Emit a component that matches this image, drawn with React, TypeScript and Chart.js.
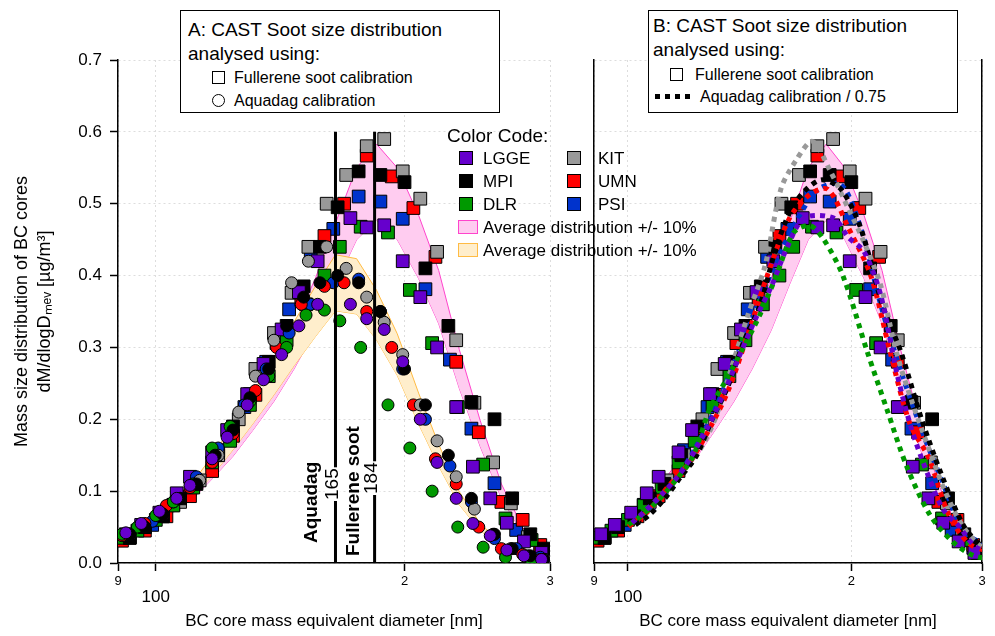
import React, { useEffect, useRef } from "react";
import { Chart, registerables } from "chart.js";
Chart.register(...registerables);

const labs = ["LGGE", "MPI", "DLR", "KIT", "UMN", "PSI"];
const labColors = ["#6600cc", "#000000", "#009900", "#999999", "#ff0000", "#0033cc"];

const xLGGE = [92,96,101,106,110,117,122,129,135,142,149,157,172,180,189,199,209,219,231,242,254,266,279,293];
const fLGGE = [0.04,0.053,0.07,0.097,0.12,0.154,0.185,0.235,0.277,0.325,0.377,0.42,0.48,0.467,0.47,0.42,0.37,0.30,0.217,0.134,0.09,0.056,0.03,0.014];
const aLGGE = [0.042,0.055,0.072,0.09,0.108,0.145,0.175,0.22,0.255,0.29,0.33,0.36,0.36,0.34,0.325,0.28,0.2,0.14,0.09,0.055,0.038,0.018,0.01,0.005];

const xMPI = [93,97,102,107,112,118,124,130,137,144,151,158,166,176,187,200,212,226,241,257,270,284,295];
const fMPI = [0.035,0.05,0.065,0.09,0.11,0.15,0.19,0.235,0.28,0.33,0.385,0.44,0.495,0.545,0.54,0.53,0.41,0.33,0.224,0.20,0.09,0.04,0.02];
const aMPI = [0.04,0.05,0.068,0.09,0.11,0.15,0.185,0.23,0.27,0.33,0.37,0.39,0.40,0.39,0.35,0.27,0.22,0.15,0.09,0.04,0.02,0.01,0.005];

const xDLR = [91,95,100,105,111,117,123,130,137,144,152,160,167,177,191,203,216,232,249,265,285];
const fDLR = [0.035,0.045,0.06,0.08,0.105,0.14,0.17,0.22,0.26,0.31,0.36,0.40,0.44,0.468,0.46,0.38,0.306,0.217,0.137,0.062,0.032];
const aDLR = [0.04,0.05,0.066,0.085,0.11,0.16,0.19,0.225,0.26,0.3,0.345,0.352,0.337,0.3,0.22,0.16,0.1,0.05,0.022,0.008,0.003];

const xKIT = [93,97,102,107,113,119,126,132,139,146,153,161,170,180,189,199,209,219,231,243,256,269,282,296];
const fKIT = [0.035,0.05,0.065,0.085,0.115,0.15,0.2,0.27,0.32,0.376,0.44,0.5,0.54,0.58,0.59,0.545,0.507,0.433,0.31,0.223,0.14,0.083,0.036,0.014];
const aKIT = [0.04,0.05,0.068,0.09,0.115,0.15,0.21,0.26,0.31,0.39,0.42,0.44,0.41,0.37,0.335,0.29,0.22,0.17,0.12,0.075,0.04,0.02,0.01,0.005];

const xUMN = [91,97,103,110,117,124,132,140,150,160,169,180,193,205,218,231,246,262,278,292];
const fUMN = [0.031,0.045,0.065,0.093,0.128,0.177,0.234,0.306,0.366,0.455,0.5,0.567,0.538,0.494,0.426,0.28,0.182,0.085,0.06,0.025];
const aUMN = [0.038,0.055,0.08,0.105,0.14,0.18,0.24,0.3,0.36,0.385,0.39,0.35,0.30,0.22,0.145,0.11,0.05,0.02,0.012,0.005];

const xPSI = [93,99,105,112,119,128,136,145,154,164,176,187,199,212,227,241,257,273,292];
const fPSI = [0.036,0.053,0.081,0.113,0.157,0.217,0.28,0.353,0.426,0.465,0.51,0.503,0.479,0.381,0.283,0.187,0.111,0.046,0.021];
const aPSI = [0.04,0.058,0.085,0.12,0.16,0.22,0.27,0.32,0.36,0.39,0.395,0.35,0.27,0.2,0.135,0.085,0.034,0.02,0.008];

const labX = [xLGGE, xMPI, xDLR, xKIT, xUMN, xPSI];
const labF = [fLGGE, fMPI, fDLR, fKIT, fUMN, fPSI];
const labA = [aLGGE, aMPI, aDLR, aKIT, aUMN, aPSI];

const avgX = [90,95,100,105,111,117,124,131,139,147,156,165,175,185,196,208,220,233,247,262,278,295,300];
const avgF = [0.033,0.045,0.06,0.078,0.10,0.13,0.165,0.205,0.25,0.30,0.36,0.43,0.50,0.53,0.50,0.44,0.37,0.27,0.18,0.10,0.045,0.012,0.008];
const avgA = [0.036,0.048,0.062,0.08,0.103,0.135,0.175,0.215,0.26,0.305,0.35,0.39,0.385,0.345,0.29,0.215,0.15,0.09,0.05,0.025,0.012,0.004,0.003];

const xTicks = [90, 100, 200, 300];
const yTicks = [0, 0.1, 0.2, 0.3, 0.4, 0.5, 0.6, 0.7];
const aquadagMode = 165;
const fullereneMode = 184;
const aquadagFactor = 0.75;

const FONT = "'Liberation Sans', Arial, sans-serif";

const pts = (xs: number[], ys: number[]) => xs.map((x, i) => ({ x, y: ys[i] }));

function band(ys: number[], fill: string, line: string) {
  return [
    { data: pts(avgX, ys.map(v => v * 1.1)), showLine: true, pointRadius: 0, borderColor: line, borderWidth: 1, backgroundColor: fill, fill: "+1", order: 100, tension: 0 },
    { data: pts(avgX, ys.map(v => v * 0.9)), showLine: true, pointRadius: 0, borderColor: line, borderWidth: 1, backgroundColor: fill, fill: false, order: 100, tension: 0 },
  ];
}

function squares() {
  return labs.map((l, i) => ({
    data: pts(labX[i], labF[i]), pointStyle: "rect", pointRadius: 9, pointBackgroundColor: labColors[i],
    pointBorderColor: "#000", pointBorderWidth: 1, showLine: false, order: 1,
  }));
}

function xScale(showTitle: boolean) {
  return {
    type: "logarithmic", min: 90, max: 300,
    afterBuildTicks: (s: any) => { s.ticks = xTicks.map(v => ({ value: v })); },
    afterFit: (s: any) => { s.height = 73; },
    ticks: { autoSkip: false, maxRotation: 0, color: "#000", font: { family: FONT, size: 13 },
      callback: (v: any) => (v === 90 ? "9" : v === 200 ? "2" : v === 300 ? "3" : "") },
    grid: { color: "#dddddd", tickColor: "#000", tickLength: 8, tickBorderDash: [], tickWidth: 1.5 },
    border: { display: true, color: "#000", width: 1.5, dash: [2, 3] },
    title: { display: showTitle, text: "BC core mass equivalent diameter [nm]", color: "#000", font: { family: FONT, size: 17 }, padding: { top: 0, bottom: 4 } },
  };
}

const label100 = {
  id: "label100",
  afterDraw(chart: any) {
    const ctx = chart.ctx; const xs = chart.scales.x;
    ctx.save(); ctx.fillStyle = "#000"; ctx.font = `17px ${FONT}`; ctx.textAlign = "center"; ctx.textBaseline = "middle";
    ctx.fillText("100", xs.getPixelForValue(100), 597); ctx.restore();
  },
};

const modeLines = {
  id: "modeLines",
  afterDatasetsDraw(chart: any) {
    const ctx = chart.ctx; const xs = chart.scales.x; const ys = chart.scales.y;
    const y0 = ys.getPixelForValue(0), y1 = ys.getPixelForValue(0.6);
    const drawLab = (val: number, bold: string, num: string, boldCx: number, boldBottom: number, numBottom: number) => {
      const px = xs.getPixelForValue(val);
      ctx.save(); ctx.strokeStyle = "#000"; ctx.lineWidth = 3;
      ctx.beginPath(); ctx.moveTo(px, y0); ctx.lineTo(px, y1); ctx.stroke();
      ctx.font = `19px ${FONT}`;
      const w = ctx.measureText(num).width;
      ctx.fillStyle = "#fff"; ctx.fillRect(px - 11, numBottom - w - 1, 16, w + 2);
      ctx.fillStyle = "#000";
      ctx.translate(px - 3, numBottom); ctx.rotate(-Math.PI / 2);
      ctx.textBaseline = "middle"; ctx.textAlign = "left"; ctx.fillText(num, 0, 0);
      ctx.restore();
      ctx.save(); ctx.fillStyle = "#000"; ctx.font = `bold 19px ${FONT}`;
      ctx.translate(boldCx, boldBottom); ctx.rotate(-Math.PI / 2);
      ctx.textBaseline = "middle"; ctx.textAlign = "left"; ctx.fillText(bold, 0, 0); ctx.restore();
    };
    drawLab(aquadagMode, "Aquadag", String(aquadagMode), 312, 543, 500);
    drawLab(fullereneMode, "Fullerene soot", String(fullereneMode), 354, 556, 494);
  },
};

export default function App() {
  const leftRef = useRef<HTMLCanvasElement>(null);
  const rightRef = useRef<HTMLCanvasElement>(null);
  useEffect(() => {
    document.body.style.margin = "0";
    const leftDs: any[] = [
      ...labs.map((l, i) => ({
        data: pts(labX[i], labA[i]), pointStyle: "circle", pointRadius: 6, pointBackgroundColor: labColors[i],
        pointBorderColor: "#000", pointBorderWidth: 1, showLine: false, order: 1,
      })),
      ...squares(),
      ...band(avgA, "#ffeecc", "#ffbb44"),
      ...band(avgF, "#ffccf0", "#ff44cc"),
    ];
    const left = new Chart(leftRef.current!, {
      type: "scatter",
      data: { datasets: leftDs },
      plugins: [label100, modeLines],
      options: {
        animation: false, responsive: false, events: [],
        layout: { padding: { top: 60, right: 10, left: 0, bottom: 0 } },
        plugins: { legend: { display: false }, tooltip: { enabled: false } },
        scales: {
          x: xScale(true) as any,
          y: {
            min: 0, max: 0.7,
            afterBuildTicks: (s: any) => { s.ticks = yTicks.map(v => ({ value: v })); },
            afterFit: (s: any) => { s.width = 118; },
            ticks: { color: "#000", font: { family: FONT, size: 17 }, callback: (v: any) => Number(v).toFixed(1), padding: 8 },
            grid: { color: "#dddddd", tickColor: "#000", tickLength: 8, tickWidth: 1.5 },
            border: { display: true, color: "#000", width: 1.5, dash: [2, 3] },
            title: { display: true, text: ["Mass size distribution of BC cores", "dM/dlogDₘₑᵥ [µg/m³]"], color: "#000", font: { family: FONT, size: 18, lineHeight: 1.3 }, padding: { top: 10, bottom: 6 } },
          },
        },
      } as any,
    });
    const scaleX = Math.pow(1 / aquadagFactor, 1 / 3);
    const rightDs: any[] = [
      ...labs.map((l, i) => ({
        data: labX[i].map((x, j) => ({ x: x * scaleX, y: labA[i][j] / aquadagFactor })), showLine: true, pointRadius: 0,
        borderColor: labColors[i], borderWidth: 5, borderDash: [5, 5], borderCapStyle: "butt", tension: 0.3, fill: false, order: 0,
      })),
      ...squares(),
      ...band(avgF, "#ffccf0", "#ff44cc"),
    ];
    const right = new Chart(rightRef.current!, {
      type: "scatter",
      data: { datasets: rightDs },
      plugins: [label100],
      options: {
        animation: false, responsive: false, events: [],
        layout: { padding: { top: 60, right: 13, left: 0, bottom: 0 } },
        plugins: { legend: { display: false }, tooltip: { enabled: false } },
        scales: {
          x: xScale(true) as any,
          y: {
            min: 0, max: 0.7,
            afterBuildTicks: (s: any) => { s.ticks = yTicks.map(v => ({ value: v })); },
            afterFit: (s: any) => { s.width = 34; },
            ticks: { display: false },
            grid: { color: "#dddddd", tickColor: "#000", tickLength: 0 },
            border: { display: true, color: "#000", width: 1.5, dash: [2, 3] },
          },
          y2: {
            position: "right", min: 0, max: 0.7,
            afterFit: (s: any) => { s.width = 0; },
            ticks: { display: false }, grid: { display: false },
            border: { display: true, color: "#000", width: 1.5 },
          },
        },
      } as any,
    });
    return () => { left.destroy(); right.destroy(); };
  }, []);

  const txt: React.CSSProperties = { position: "absolute", fontFamily: FONT, color: "#000", whiteSpace: "nowrap", lineHeight: 1 };
  const sq = (c: string, x: number, y: number, s = 13): React.CSSProperties => ({ position: "absolute", left: x, top: y, width: s, height: s, background: c, border: "1px solid #000", boxSizing: "border-box" });

  return (
    <div style={{ position: "relative", width: 995, height: 636, background: "#fff", overflow: "hidden" }}>
      <canvas ref={leftRef} width={560} height={636} style={{ position: "absolute", left: 0, top: 0 }} />
      <canvas ref={rightRef} width={435} height={636} style={{ position: "absolute", left: 560, top: 0 }} />

      <div style={{ position: "absolute", left: 180, top: 10, width: 320, height: 103, border: "1px solid #000", background: "#fff", boxSizing: "border-box" }} />
      <div style={{ ...txt, left: 188, top: 20, fontSize: 19 }}>A: CAST Soot size distribution</div>
      <div style={{ ...txt, left: 188, top: 44, fontSize: 19 }}>analysed using:</div>
      <div style={{ ...sq("#fff", 212, 71, 13) }} />
      <div style={{ ...txt, left: 234, top: 70, fontSize: 16 }}>Fullerene soot calibration</div>
      <div style={{ position: "absolute", left: 212, top: 94, width: 13, height: 13, borderRadius: "50%", border: "1px solid #000", boxSizing: "border-box" }} />
      <div style={{ ...txt, left: 234, top: 93, fontSize: 16 }}>Aquadag calibration</div>

      <div style={{ position: "absolute", left: 648, top: 10, width: 310, height: 103, border: "1px solid #000", background: "#fff", boxSizing: "border-box" }} />
      <div style={{ ...txt, left: 653, top: 16, fontSize: 19 }}>B: CAST Soot size distribution</div>
      <div style={{ ...txt, left: 653, top: 40, fontSize: 19 }}>analysed using:</div>
      <div style={{ ...sq("#fff", 670, 68, 13) }} />
      <div style={{ ...txt, left: 695, top: 67, fontSize: 16 }}>Fullerene soot calibration</div>
      <div style={{ position: "absolute", left: 655, top: 94, width: 37, height: 5, background: "repeating-linear-gradient(90deg,#000 0 5px,transparent 5px 10px)" }} />
      <div style={{ ...txt, left: 700, top: 89, fontSize: 16 }}>Aquadag calibration / 0.75</div>

      <div style={{ ...txt, left: 447, top: 126, fontSize: 19 }}>Color Code:</div>
      {labs.map((l, i) => {
        const col = i < 3 ? 0 : 1; const row = i % 3;
        const bx = col === 0 ? 459 : 567; const tx = col === 0 ? 483 : 598;
        const y = 150 + row * 23;
        return (
          <React.Fragment key={l}>
            <div style={sq(labColors[i], bx, y + 1, 14)} />
            <div style={{ ...txt, left: tx, top: y, fontSize: 17 }}>{l}</div>
          </React.Fragment>
        );
      })}
      <div style={{ position: "absolute", left: 458, top: 220, width: 20, height: 14, background: "#ffccf0", border: "1px solid #ff44cc", boxSizing: "border-box" }} />
      <div style={{ ...txt, left: 483, top: 219, fontSize: 17 }}>Average distribution +/- 10%</div>
      <div style={{ position: "absolute", left: 458, top: 243, width: 20, height: 14, background: "#ffeecc", border: "1px solid #ffbb44", boxSizing: "border-box" }} />
      <div style={{ ...txt, left: 483, top: 242, fontSize: 17 }}>Average distribution +/- 10%</div>
    </div>
  );
}
